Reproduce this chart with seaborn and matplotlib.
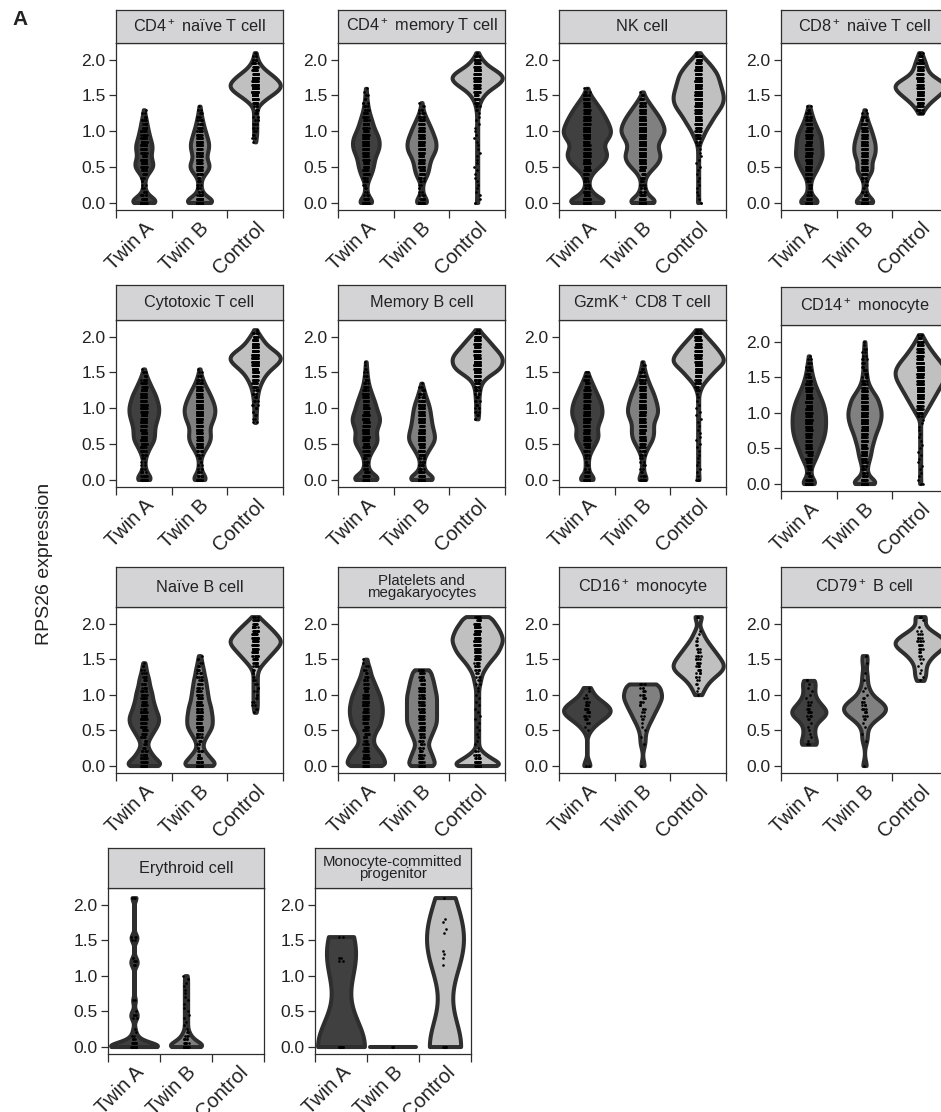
import numpy as np
import pandas as pd
import seaborn as sns
import matplotlib.pyplot as plt
from matplotlib.transforms import ScaledTranslation

GROUPS = ["Twin A", "Twin B", "Control"]
LEVELS = [0.00, 0.05, 0.10, 0.15, 0.20, 0.25, 0.30, 0.35, 0.40, 0.45, 0.50,
          0.55, 0.60, 0.65, 0.70, 0.75, 0.80, 0.85, 0.90, 0.95, 1.00, 1.05,
          1.10, 1.15, 1.20, 1.25, 1.30, 1.35, 1.40, 1.45, 1.50, 1.55, 1.60,
          1.65, 1.70, 1.75, 1.80, 1.85, 1.90, 1.95, 2.00, 2.05, 2.10]
YTICKS = [0.0, 0.5, 1.0, 1.5, 2.0]

TITLES = [
    "CD4$^+$ naïve T cell", "CD4$^+$ memory T cell", "NK cell", "CD8$^+$ naïve T cell",
    "Cytotoxic T cell", "Memory B cell", "GzmK$^+$ CD8 T cell", "CD14$^+$ monocyte",
    "Naïve B cell", "Platelets and\nmegakaryocytes", "CD16$^+$ monocyte", "CD79$^+$ B cell",
    "Erythroid cell", "Monocyte-committed\nprogenitor",
]

# number of cells at each expression level in LEVELS
cd4_naive_a = [35, 20, 9, 4, 2, 2, 2, 3, 7, 13, 18, 18, 15, 13, 14, 16, 16, 14, 12, 10, 9, 7, 6, 5, 3, 2, 1]
cd4_naive_b = [38, 22, 10, 5, 3, 3, 3, 5, 10, 16, 20, 18, 14, 13, 15, 17, 18, 17, 15, 13, 11, 9, 7, 6, 4, 3, 2, 1]
cd4_naive_c = [0] * 17 + [1, 2, 3, 3, 3, 3, 3, 3, 3, 3, 5, 12, 20, 30, 40, 48, 50, 45, 38, 30, 20, 13, 8, 5, 3, 2]

cd4_mem_a = [20, 8, 4, 2, 2, 2, 4, 7, 10, 12, 14, 15, 16, 18, 21, 24, 25, 25, 24, 21, 18, 15, 13, 11, 9, 7, 5, 4, 3, 2, 2, 1, 1]
cd4_mem_b = [16, 8, 4, 2, 2, 2, 4, 8, 11, 13, 14, 15, 17, 20, 24, 27, 27, 27, 25, 22, 20, 17, 14, 11, 8, 5, 3, 2, 1]
cd4_mem_c = [2] + [1] * 25 + [2, 3, 5, 8, 12, 18, 27, 38, 46, 50, 45, 35, 23, 15, 10, 5, 2]

nk_a = [55, 28, 18, 10, 5, 4, 4, 6, 10, 16, 24, 32, 37, 40, 40, 36, 33, 36, 42, 47, 48, 46, 43, 40, 36, 32, 28, 23, 18, 13, 8, 4, 2]
nk_b = [40, 20, 12, 7, 5, 4, 4, 6, 10, 16, 24, 30, 34, 36, 34, 31, 30, 32, 37, 41, 44, 43, 40, 37, 33, 28, 23, 18, 13, 8, 4, 1]
nk_c = [2] + [1] * 15 + [2, 4, 8, 11, 14, 18, 23, 27, 31, 36, 41, 46, 49, 50, 50, 48, 46, 44, 42, 40, 38, 33, 28, 22, 16, 8, 3]

cd8_naive_a = [28, 12, 6, 3, 3, 3, 4, 6, 10, 14, 17, 20, 23, 25, 25, 24, 24, 23, 23, 21, 18, 15, 12, 9, 7, 5, 3, 2]
cd8_naive_b = [28, 12, 6, 3, 2, 2, 3, 6, 10, 15, 14, 13, 15, 18, 20, 20, 20, 19, 17, 15, 13, 11, 8, 6, 4, 2, 1]
cd8_naive_c = [0] * 25 + [4, 7, 12, 18, 26, 34, 42, 48, 50, 40, 28, 18, 14, 12, 10, 8, 5, 3]

cytotoxic_a = [20, 10, 6, 3, 2, 2, 3, 5, 8, 11, 15, 19, 20, 20, 20, 21, 23, 25, 27, 28, 28, 27, 25, 23, 21, 17, 14, 11, 8, 5, 3, 1]
cytotoxic_b = [18, 9, 5, 3, 2, 2, 3, 5, 9, 13, 17, 20, 21, 20, 19, 20, 23, 26, 28, 29, 29, 27, 25, 22, 19, 16, 12, 9, 6, 4, 2, 1]
cytotoxic_c = [0] * 16 + [2, 2, 2, 2, 3, 3, 3, 4, 5, 6, 8, 11, 14, 18, 23, 30, 38, 46, 50, 46, 37, 27, 20, 15, 11, 6, 2]

memory_b_a = [38, 20, 9, 5, 4, 4, 5, 8, 12, 16, 21, 23, 22, 20, 21, 24, 27, 28, 26, 23, 21, 19, 17, 14, 12, 9, 7, 5, 4, 3, 2, 2, 1, 1]
memory_b_b = [36, 20, 9, 5, 4, 4, 5, 9, 13, 17, 22, 26, 26, 25, 23, 21, 20, 19, 18, 17, 16, 14, 12, 9, 7, 5, 3, 1]
memory_b_c = [0] * 17 + [2, 3, 3, 3, 3, 3, 4, 4, 5, 6, 9, 13, 22, 34, 44, 48, 50, 50, 47, 40, 34, 28, 22, 16, 9, 3]

gzmk_a = [22, 9, 4, 3, 3, 3, 3, 5, 8, 12, 15, 19, 22, 21, 19, 20, 23, 26, 28, 29, 28, 27, 25, 22, 19, 16, 13, 10, 7, 4, 2]
gzmk_b = [12, 5, 2, 2, 2, 2, 2, 4, 7, 10, 14, 18, 20, 21, 21, 20, 21, 24, 27, 29, 28, 27, 25, 23, 21, 18, 15, 12, 10, 7, 5, 4, 2, 1]
gzmk_c = [3] + [1] * 24 + [4, 6, 10, 16, 22, 28, 34, 42, 49, 48, 44, 39, 34, 28, 22, 16, 10, 4]

cd14_a = [20, 9, 5, 4, 4, 6, 10, 13, 16, 19, 21, 24, 27, 29, 31, 32, 33, 33, 33, 33, 32, 31, 29, 27, 24, 21, 18, 15, 12, 10, 8, 6, 5, 4, 3, 2, 1]
cd14_b = [35, 18, 9, 6, 5, 6, 8, 10, 12, 13, 14, 16, 18, 20, 22, 25, 28, 30, 32, 33, 33, 32, 30, 28, 26, 21, 16, 12, 8, 6, 5, 4, 3, 3, 3, 3, 2, 2, 2, 1, 1]
cd14_c = [2] + [1] * 18 + [6, 10, 14, 18, 22, 26, 30, 34, 38, 42, 46, 49, 50, 50, 46, 42, 36, 30, 25, 20, 15, 11, 7, 3]

naive_b_a = [23, 14, 11, 8, 6, 4, 3, 4, 6, 8, 10, 12, 14, 14, 14, 12, 11, 10, 9, 8, 8, 7, 6, 5, 5, 4, 3, 2, 2, 1]
naive_b_b = [21, 13, 11, 8, 5, 3, 3, 4, 6, 8, 10, 12, 12, 12, 12, 11, 11, 10, 9, 8, 8, 7, 7, 6, 6, 5, 4, 4, 3, 2, 2, 1]
naive_b_c = [0] * 15 + [1] + [2] * 11 + [3, 5, 8, 11, 14, 17, 20, 23, 25, 23, 20, 17, 14, 10, 7, 3]

platelet_a = [17, 12, 12, 11, 9, 7, 5, 5, 5, 6, 7, 9, 10, 10, 11, 11, 11, 11, 10, 10, 9, 8, 7, 6, 5, 4, 3, 3, 2, 1, 1]
platelet_b = [12, 8, 8, 7, 6, 5, 4, 5, 6, 7, 8, 9, 10, 10, 10, 10, 10, 10, 10, 10, 10, 9, 9, 8, 8, 7, 6, 7]
platelet_c = [23, 13, 10, 6, 3, 1] + [1] * 15 + [1, 1, 2, 2, 3, 3, 5, 6, 8, 10, 12, 14, 15, 16, 17, 17, 16, 15, 14, 12, 10, 11]

cd16_a = [2, 0, 0, 0, 0, 0, 0, 0, 0, 0, 1, 1, 2, 3, 4, 5, 5, 4, 3, 2, 1, 1, 1]
cd16_b = [1, 0, 0, 0, 0, 0, 1, 0, 1, 0, 1, 1, 1, 2, 2, 2, 3, 3, 3, 4, 4, 3, 3, 5]
cd16_c = [0] * 20 + [1, 1, 1, 2, 2, 3, 4, 5, 5, 5, 4, 4, 3, 3, 2, 2, 1, 1, 1, 0, 0, 0, 2]

cd79_a = [0] * 6 + [3, 1, 1, 1, 1, 1, 1, 2, 3, 4, 3, 2, 2, 1, 1, 1, 1, 1, 2]
cd79_b = [1, 0, 0, 0, 0, 0, 0, 1, 0, 1, 0, 1, 1, 2, 3, 4, 4, 4, 3, 2, 1, 1, 1, 0, 1, 0, 1, 0, 0, 1, 0, 1]
cd79_c = [0] * 24 + [1, 1, 1, 1, 1, 1, 2, 2, 3, 4, 5, 5, 4, 3, 2, 1, 0, 1, 2]

erythroid_a = [30, 8, 4, 2, 1, 1, 0, 0, 2, 3, 1, 0, 0, 2, 0, 0, 0, 0, 0, 0, 0, 0, 0, 2, 3, 1,
               0, 0, 0, 0, 2, 3, 0, 0, 0, 0, 0, 0, 0, 0, 0, 0, 3]
erythroid_b = [17, 8, 5, 3, 2, 1] + [1] * 15
erythroid_c = []

mono_prog_a = [9] + [0] * 23 + [2, 2, 0, 0, 0, 0, 0, 2]
mono_prog_b = [3]
mono_prog_c = [6] + [0] * 22 + [1, 0, 1, 1, 1, 0, 0, 0, 0, 1, 1, 0, 1, 1, 0, 0, 0, 0, 0, 1]

PANELS = [
    (cd4_naive_a, cd4_naive_b, cd4_naive_c), (cd4_mem_a, cd4_mem_b, cd4_mem_c),
    (nk_a, nk_b, nk_c), (cd8_naive_a, cd8_naive_b, cd8_naive_c),
    (cytotoxic_a, cytotoxic_b, cytotoxic_c), (memory_b_a, memory_b_b, memory_b_c),
    (gzmk_a, gzmk_b, gzmk_c), (cd14_a, cd14_b, cd14_c),
    (naive_b_a, naive_b_b, naive_b_c), (platelet_a, platelet_b, platelet_c),
    (cd16_a, cd16_b, cd16_c), (cd79_a, cd79_b, cd79_c),
    (erythroid_a, erythroid_b, erythroid_c), (mono_prog_a, mono_prog_b, mono_prog_c),
]

# kde bandwidth per panel (expression units)
BANDWIDTH = [0.05] * 10 + [0.07, 0.07, 0.05, 0.4]

PALETTE = {"Twin A": "#404040", "Twin B": "#808080", "Control": "#c0c0c0"}
EDGE = "#2e2e2e"
STRIP = "#d4d4d6"
TEXT = "#222222"

# panel boxes in pixels: left, strip top, axes top, axes bottom, width
BOXES = [
    (116, 10, 43, 210, 167), (338, 10, 43, 210, 167), (559, 10, 43, 210, 167), (781, 10, 43, 210, 167),
    (116, 285, 320, 487, 167), (338, 285, 320, 487, 167), (559, 285, 320, 487, 167), (781, 287, 325, 491, 167),
    (116, 567, 607, 773, 167), (338, 567, 607, 773, 167), (559, 567, 607, 773, 167), (781, 567, 607, 773, 167),
    (108, 848, 888, 1054, 156), (315, 848, 888, 1054, 156),
]
W, H = 941, 1112


def frac(left, top, width, height):
    return [left / W, 1 - (top + height) / H, width / W, height / H]


def fixed_bw(bw):
    return lambda kde: bw / kde.dataset.std(ddof=1)


def peak_height(counts, bw):
    # height of the smoothed count profile, so widths follow cell counts
    lv = np.asarray(LEVELS[:len(counts)])
    c = np.asarray(counts, float)
    grid = np.linspace(lv[c > 0].min(), lv[c > 0].max(), 300)
    prof = (c[None, :] * np.exp(-0.5 * ((grid[:, None] - lv[None, :]) / bw) ** 2)).sum(axis=1)
    return prof.max()


def panel_frame(series):
    parts = []
    for group, counts in zip(GROUPS, series):
        vals = np.repeat(LEVELS[:len(counts)], counts)
        parts.append(pd.DataFrame({"group": group, "value": vals}))
    return pd.concat(parts, ignore_index=True)


def draw_panel(fig, box, title, series, bw):
    left, s_top, a_top, a_bot, width = box
    ax = fig.add_axes(frac(left, a_top, width, a_bot - a_top))
    df = panel_frame(series)

    peaks = {}
    for group, counts in zip(GROUPS, series):
        if np.count_nonzero(counts) > 1:
            peaks[group] = peak_height(counts, bw)
    top = max(peaks.values())
    for group, pk in peaks.items():
        sns.violinplot(data=df[df["group"] == group], x="group", y="value",
                       order=GROUPS, color=PALETTE[group], saturation=1,
                       inner=None, cut=0, width=0.9 * pk / top, gridsize=300,
                       density_norm="width", bw_method=fixed_bw(bw),
                       linecolor=EDGE, linewidth=2.9, joinstyle="round", ax=ax)
    # groups where every cell has the same value collapse to a flat line
    for group, counts in zip(GROUPS, series):
        if np.count_nonzero(counts) == 1:
            i = GROUPS.index(group)
            v = LEVELS[int(np.flatnonzero(counts)[0])]
            ax.plot([i - 0.45, i + 0.45], [v, v], color=EDGE, lw=2.9,
                    solid_capstyle="round", zorder=2)
    sns.stripplot(data=df, x="group", y="value", order=GROUPS, color="black",
                  size=1.9, jitter=0.05, linewidth=0, ax=ax, zorder=3)

    ax.set_xlim(-0.5, 2.5)
    ax.set_ylim(-0.105, 2.235)
    ax.set_xlabel("")
    ax.set_ylabel("")
    ax.set_yticks(YTICKS)
    ax.set_yticklabels([f"{t:.1f}" for t in YTICKS])
    ax.set_xticks([0, 1, 2])
    ax.set_xticklabels(GROUPS, rotation=45, ha="right", va="top",
                       rotation_mode="anchor")
    shift = ScaledTranslation(5 / 72, 0, fig.dpi_scale_trans)
    for lab in ax.get_xticklabels():
        lab.set_transform(lab.get_transform() + shift)
    ax.set_xticks([-0.5, 0.5, 1.5, 2.5], minor=True)
    ax.tick_params(axis="x", which="major", length=0, pad=6,
                   labelsize=14.5, labelcolor=TEXT)
    ax.tick_params(axis="x", which="minor", length=5.8, width=0.9, color=EDGE)
    ax.tick_params(axis="y", length=5, width=0.9, color=EDGE, pad=2.5,
                   labelsize=12.5, labelcolor=TEXT)
    for sp in ax.spines.values():
        sp.set_visible(True)
        sp.set_color(EDGE)
        sp.set_linewidth(0.9)
    ax.grid(False)
    ax.set_facecolor("white")

    # facet strip
    sax = fig.add_axes(frac(left, s_top, width, a_top - s_top))
    sax.set_facecolor(STRIP)
    sax.set_xticks([])
    sax.set_yticks([])
    for sp in sax.spines.values():
        sp.set_color(EDGE)
        sp.set_linewidth(0.9)
    two_lines = "\n" in title
    sax.text(0.5, 0.5, title, ha="center", va="center", color=TEXT,
             fontsize=10.8 if two_lines else 11.7, linespacing=0.9,
             transform=sax.transAxes)


def main():
    sns.set_style("ticks")
    plt.rcParams["font.family"] = ["Liberation Sans", "DejaVu Sans"]
    plt.rcParams["mathtext.default"] = "regular"
    fig = plt.figure(figsize=(W / 100, H / 100), dpi=100)
    for box, title, series, bw in zip(BOXES, TITLES, PANELS, BANDWIDTH):
        draw_panel(fig, box, title, series, bw)
    fig.text(12 / W, 1 - 10 / H, "A", ha="left", va="top", fontsize=15,
             fontweight="bold", color=TEXT)
    fig.text(45 / W, 1 - 564 / H, "RPS26 expression", rotation=90,
             ha="center", va="center", fontsize=14, color=TEXT)
    fig.savefig("out.png", dpi=100)


if __name__ == "__main__":
    main()
